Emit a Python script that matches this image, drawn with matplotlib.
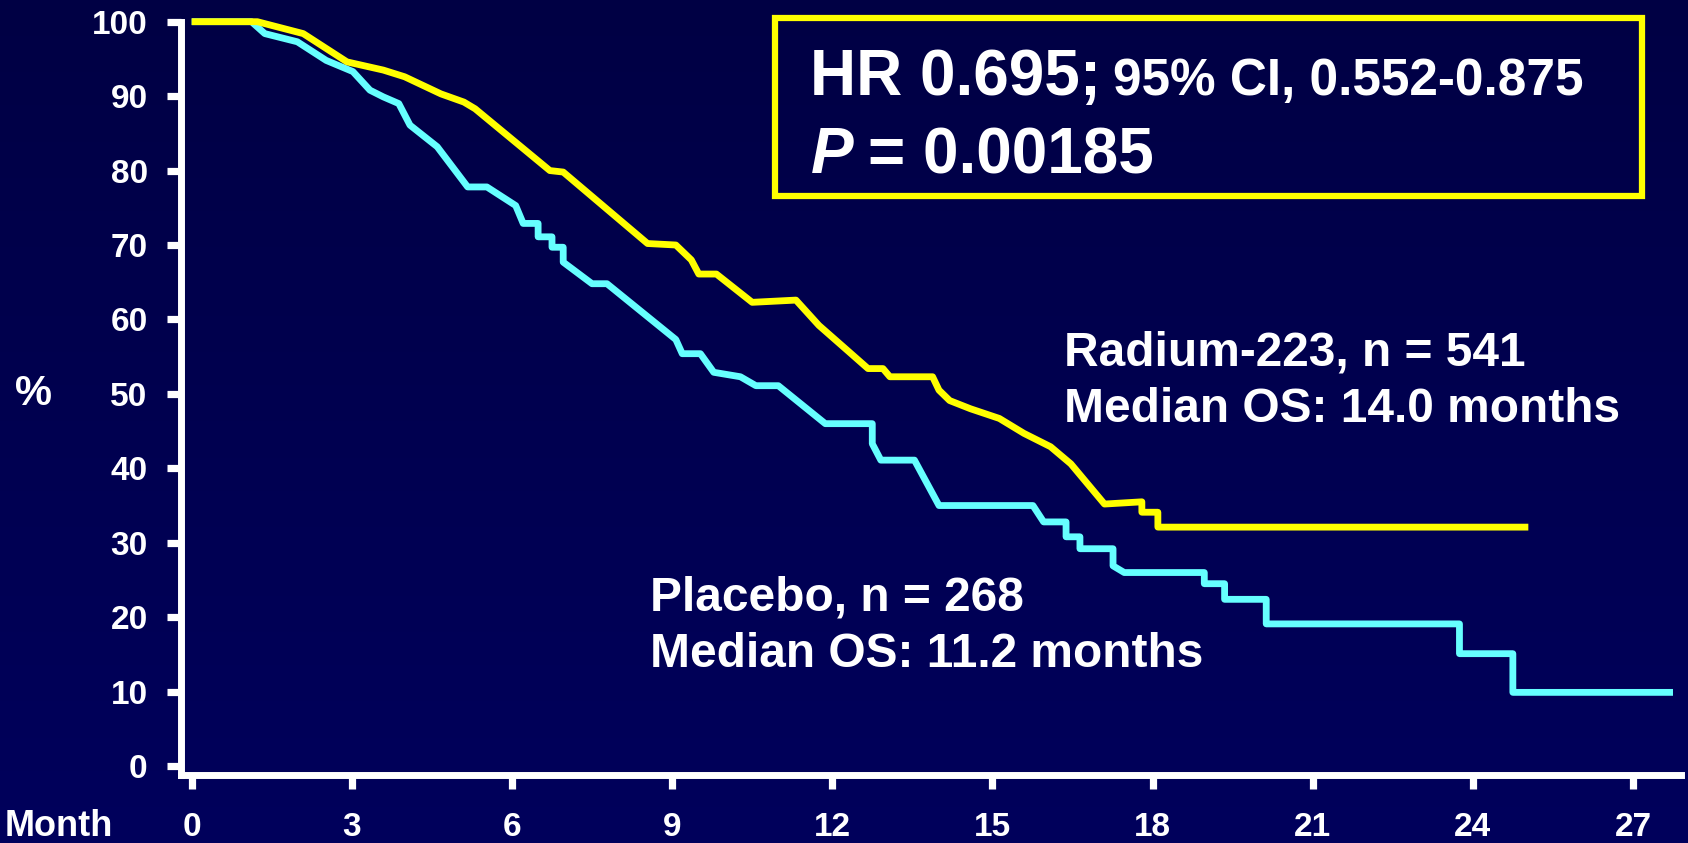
import numpy as np
import matplotlib
matplotlib.use("Agg")
import matplotlib.pyplot as plt
from matplotlib.colors import LinearSegmentedColormap
from matplotlib.patches import Rectangle

# ---- data ----
radium_months = [0, 1.23, 2.09, 2.91, 3.59, 3.99, 4.67, 5.1, 5.31, 6.71, 6.96, 8.54, 9.07,
                 9.36, 9.5, 9.83, 10.5, 11.32, 11.75, 12.29, 12.67, 12.95, 13.08, 13.88,
                 14.0, 14.2, 14.59, 15.13, 15.59, 16.09, 16.47, 17.1, 17.8, 17.8, 18.1,
                 18.1, 25.04]
radium_pct = [100, 100, 98.4, 94.6, 93.5, 92.6, 90.3, 89.2, 88.3, 80.0, 79.8, 70.2, 70.0,
              68.0, 66.1, 66.1, 62.3, 62.6, 59.2, 55.8, 53.4, 53.4, 52.3, 52.3,
              50.5, 49.1, 48.0, 46.7, 44.7, 42.9, 40.6, 35.2, 35.5, 34.1, 34.1,
              32.1, 32.1]

placebo_months = [0, 1.12, 1.37, 1.98, 2.52, 3.02, 3.34, 3.59, 3.88, 4.09, 4.6, 5.17, 5.53,
                  6.07, 6.21, 6.49, 6.49, 6.75, 6.75, 6.96, 6.96, 7.5, 7.78, 9.07, 9.19,
                  9.53, 9.78, 10.28, 10.57, 10.99, 11.87, 12.75, 12.75, 12.91, 13.54, 14.0,
                  15.76, 15.96, 16.38, 16.38, 16.64, 16.64, 17.26, 17.26, 17.47, 18.97,
                  18.97, 19.35, 19.35, 20.13, 20.13, 23.75, 23.75, 24.75, 24.75, 27.75]
placebo_pct = [100, 100, 98.4, 97.3, 94.8, 93.3, 90.8, 89.9, 89.0, 86.1, 83.2, 77.8, 77.8,
               75.3, 72.9, 72.9, 71.1, 71.1, 69.7, 69.7, 67.7, 64.8, 64.8, 57.3, 55.4,
               55.4, 52.9, 52.3, 51.1, 51.1, 46.0, 46.0, 43.3, 41.1, 41.1, 35.0,
               35.0, 32.8, 32.8, 30.8, 30.8, 29.2, 29.2, 26.9, 26.0, 26.0,
               24.5, 24.5, 22.4, 22.4, 19.1, 19.1, 15.1, 15.1, 9.9, 9.9]

x_ticks = [0, 3, 6, 9, 12, 15, 18, 21, 24, 27]
y_ticks = [0, 10, 20, 30, 40, 50, 60, 70, 80, 90, 100]

radium_label = ["Radium-223, n = 541", "Median OS: 14.0 months"]
placebo_label = ["Placebo, n = 268", "Median OS: 11.2 months"]
hr_main = "HR 0.695;"
hr_ci = "95% CI, 0.552-0.875"
p_value = "= 0.00185"

# ---- style ----
FONT = "Liberation Sans"
W, H = 1688, 843
YELLOW = "#FFFF00"
CYAN = "#66FFFF"

plt.rcParams["font.family"] = [FONT, "DejaVu Sans"]
plt.rcParams["font.weight"] = "bold"

fig = plt.figure(figsize=(W / 100, H / 100), dpi=100)

# background gradient
bg = fig.add_axes([0, 0, 1, 1], zorder=-10)
cmap = LinearSegmentedColormap.from_list("bg", ["#000044", "#00005C"])
bg.imshow(np.linspace(0, 1, 256).reshape(-1, 1), aspect="auto", cmap=cmap,
          extent=[0, 1, 0, 1], origin="upper")
bg.set_axis_off()

def fx(px):
    return px / W

def fy(py):
    return 1 - py / H

left_px, right_px = 181, 1681
top_px, bottom_px = 21.7, 775
ax = fig.add_axes([fx(left_px), fy(bottom_px), (right_px - left_px) / W, (bottom_px - top_px) / H])
ax.set_facecolor("none")
ax.set_xlim(-0.2, 27.9)
ax.set_ylim(-1.2, 100)

ax.plot(placebo_months, placebo_pct, color=CYAN, lw=4.9, solid_joinstyle="round",
        solid_capstyle="butt", clip_on=False, zorder=3)
ax.plot(radium_months, radium_pct, color=YELLOW, lw=4.9, solid_joinstyle="round",
        solid_capstyle="butt", clip_on=False, zorder=4)

for s in ["top", "right"]:
    ax.spines[s].set_visible(False)
for s in ["left", "bottom"]:
    ax.spines[s].set_color("white")
    ax.spines[s].set_linewidth(5)
    ax.spines[s].set_capstyle("projecting")

ax.set_xticks(x_ticks)
ax.set_yticks(y_ticks)
ax.tick_params(axis="both", colors="white", width=5.2, length=10, labelsize=24)
ax.tick_params(axis="y", pad=14)
ax.tick_params(axis="x", pad=17)
for lab in ax.get_xticklabels() + ax.get_yticklabels():
    lab.set_fontweight("bold")
    lab.set_color("white")

# axis labels
fig.text(fx(5), fy(836), "Month", color="white", fontsize=26, fontweight="bold",
         ha="left", va="baseline")
fig.text(fx(33), fy(394), "%", color="white", fontsize=30, fontweight="bold",
         ha="center", va="center")

# annotation texts
for i, line in enumerate(radium_label):
    fig.text(fx(1064), fy(366 + 56 * i), line, color="white", fontsize=34.5,
             fontweight="bold", ha="left", va="baseline")
for i, line in enumerate(placebo_label):
    fig.text(fx(650), fy(611 + 56 * i), line, color="white", fontsize=34.5,
             fontweight="bold", ha="left", va="baseline")

# HR box
fig.patches.append(Rectangle((fx(775), fy(196)), (1642 - 775) / W, (196 - 18) / H,
                             transform=fig.transFigure, fill=False, edgecolor=YELLOW,
                             linewidth=4.5, zorder=5))

fig.canvas.draw()
r = fig.canvas.get_renderer()
t1 = fig.text(fx(810), fy(95), hr_main, color="white", fontsize=46, fontweight="bold",
              ha="left", va="baseline")
bb = t1.get_window_extent(renderer=r)
fig.text((bb.x1 + 12) / W, fy(95), hr_ci, color="white", fontsize=37,
         fontweight="bold", ha="left", va="baseline")
t2 = fig.text(fx(811), fy(173), "P", color="white", fontsize=46, fontweight="bold",
              style="italic", ha="left", va="baseline")
bb2 = t2.get_window_extent(renderer=r)
fig.text((bb2.x1 + 14) / W, fy(173), p_value, color="white", fontsize=46,
         fontweight="bold", ha="left", va="baseline")

fig.savefig("out.png", dpi=100)
